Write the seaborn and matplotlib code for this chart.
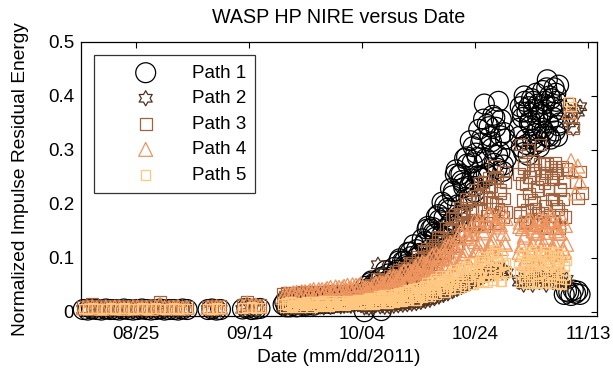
import matplotlib
matplotlib.use("Agg")
import numpy as np
import pandas as pd
import seaborn as sns
import matplotlib.pyplot as plt
import matplotlib.dates as mdates
from matplotlib.path import Path

nan = np.nan

# ================= data (time = days since 2011-08-15) =================
# --- common sampling times for paths 1, 3, 4, 5 ---
t_A = [0.6, 1.4, 2.2, 3.0, 3.8, 4.6, 5.4, 6.2, 7.0, 7.8, 8.6, 9.4, 10.2, 11.0, 11.8,
       12.6, 13.4, 14.2, 15.0, 15.8, 16.6, 17.4, 18.2, 19.0]
t_B = [22.7, 23.4, 24.2, 24.9]
t_C = [28.8, 29.6, 30.4, 31.2, 31.9]
t_D1 = [36.0, 36.3, 36.6, 36.9, 37.2, 37.5, 37.8, 38.1, 38.4, 38.7, 39.0, 39.3, 39.6, 39.9,
        40.2, 40.5, 40.8, 41.1, 41.4, 41.7, 42.0, 42.3, 42.6, 42.9, 43.2, 43.5, 43.8, 44.1,
        44.4, 44.7, 45.0, 45.3, 45.6, 45.9, 46.2, 46.5, 46.8, 47.1, 47.4, 47.7, 48.0, 48.3,
        48.6, 48.9, 49.2, 49.5, 49.8, 50.1]
t_D2 = [50.40, 50.65, 50.90, 51.15, 51.40, 51.65, 51.90, 52.15, 52.40, 52.65, 52.90, 53.15,
        53.40, 53.65, 53.90, 54.15, 54.40, 54.65, 54.90, 55.15, 55.40, 55.65, 55.90, 56.15,
        56.40, 56.65, 56.90, 57.15, 57.40, 57.65, 57.90, 58.15, 58.40, 58.65, 58.90, 59.15,
        59.40, 59.65, 59.90, 60.15, 60.40, 60.65, 60.90, 61.15, 61.40, 61.65, 61.90, 62.15,
        62.40, 62.65, 62.90, 63.15, 63.40, 63.65, 63.90, 64.15, 64.40, 64.65, 64.90, 65.15,
        65.40, 65.65, 65.90, 66.15, 66.40, 66.65, 66.90, 67.15, 67.40, 67.65, 67.90, 68.15,
        68.40, 68.65, 68.90, 69.15, 69.40, 69.65, 69.90, 70.15, 70.40, 70.65, 70.90, 71.15,
        71.40, 71.65, 71.90, 72.15, 72.40, 72.65, 72.90, 73.15, 73.40, 73.65, 73.90, 74.15,
        74.40, 74.65, 74.90, 75.15, 75.40]
t_D2b = [50.5, 51.0, 51.5, 52.0, 52.5, 53.0, 53.5, 54.0, 54.5, 55.0, 55.5, 56.0, 56.5, 57.0,
         57.5, 58.0, 58.5, 59.0, 59.5, 60.0, 60.5, 61.0, 61.5, 62.0, 62.5, 63.0, 63.5, 64.0,
         64.5, 65.0, 65.5, 66.0, 66.5, 67.0, 67.5, 68.0, 68.5, 69.0, 69.5, 70.0, 70.5, 71.0,
         71.5, 72.0, 72.5, 73.0, 73.5, 74.0, 74.5, 75.0, 75.5]
t_E = [77.8, 78.0, 78.2, 78.4, 78.6, 78.8, 79.0, 79.2, 79.4, 79.6, 79.8, 80.0, 80.2, 80.4,
       80.6, 80.8, 81.0, 81.2, 81.4, 81.6, 81.8, 82.0, 82.2, 82.4, 82.6, 82.8, 83.0, 83.2,
       83.4, 83.6, 83.8, 84.0, 84.2, 84.4, 84.6, 84.8, 85.0, 85.2, 85.4, 85.6, 85.8, 86.0, 86.2]
t_Eb = [77.9, 78.3, 78.7, 79.1, 79.5, 79.9, 80.3, 80.7, 81.1, 81.5, 81.9, 82.3, 82.7, 83.1,
        83.5, 83.9, 84.3, 84.7, 85.1]
t_F = [86.6, 87.0, 87.4, 87.8, 88.2, 88.6, 89.0, 89.4]

# --- sampling times for path 2 ---
t2_D1 = [36.0, 36.6, 37.2, 37.8, 38.4, 39.0, 39.6, 40.2, 40.8, 41.4, 42.0, 42.6, 43.2,
         43.8, 44.4, 45.0, 45.6, 46.2, 46.8, 47.4, 48.0, 48.6, 49.2, 49.8]
t2_D2 = [50.4, 50.8, 51.2, 51.6, 52.0, 52.4, 52.8, 53.2, 53.6, 54.0, 54.4, 54.8, 55.2,
         55.6, 56.0, 56.4, 56.8, 57.2, 57.6, 58.0, 58.4, 58.8, 59.2, 59.6, 60.0, 60.4,
         60.8, 61.2, 61.6, 62.0, 62.4, 62.8, 63.2, 63.6, 64.0, 64.4, 64.8, 65.2, 65.6,
         66.0, 66.4, 66.8, 67.2, 67.6, 68.0, 68.4, 68.8, 69.2, 69.6, 70.0, 70.4, 70.8,
         71.2, 71.6, 72.0, 72.4, 72.8, 73.2, 73.6, 74.0, 74.4, 74.8, 75.2, 75.6]
t2_E = [77.8, 78.2, 78.6, 79.0, 79.4, 79.8, 80.2, 80.6, 81.0, 81.4, 81.8, 82.2, 82.6,
        83.0, 83.4, 83.8, 84.2, 84.6, 85.0, 85.4, 85.8, 86.2]

# --- Path 1 ---
p1_A = [0.004, 0.003, 0.005, 0.004, 0.003, 0.005, 0.004, 0.004, 0.003, 0.005, 0.004, 0.003,
        0.004, 0.005, 0.004, 0.003, 0.004, 0.005, 0.003, 0.004, 0.004, 0.003, 0.005, 0.004]
p1_B = [0.004, 0.005, 0.003, 0.004]
p1_C = [0.005, 0.006, 0.004, 0.005, 0.006]
p1_D1 = [0.013, 0.018, 0.009, 0.016, 0.009, 0.021, 0.012, 0.019, 0.009, 0.017, 0.016, 0.021,
         0.012, 0.019, 0.012, 0.024, 0.015, 0.022, 0.012, 0.020, 0.019, 0.024, 0.015, 0.022,
         0.015, 0.027, 0.018, 0.025, 0.015, 0.023, 0.022, 0.027, 0.018, 0.025, 0.018, 0.030,
         0.021, 0.028, 0.018, 0.026, 0.025, 0.030, 0.021, 0.028, 0.021, 0.033, 0.024, 0.031]
p1_D2 = [0.000, 0.047, 0.023, 0.043, 0.020, 0.057, 0.032, 0.053, 0.020, 0.046, 0.042, 0.061,
         0.002, 0.054, 0.022, 0.076, 0.043, 0.070, 0.032, 0.064, 0.061, 0.082, 0.047, 0.077,
         0.046, 0.098, 0.063, 0.093, 0.051, 0.087, 0.084, 0.110, 0.067, 0.102, 0.065, 0.124,
         0.083, 0.115, 0.069, 0.108, 0.106, 0.135, 0.091, 0.130, 0.092, 0.158, 0.115, 0.153,
         0.101, 0.147, 0.144, 0.176, 0.125, 0.170, 0.125, 0.203, 0.152, 0.198, 0.136, 0.192,
         0.188, 0.228, 0.167, 0.223, 0.163, 0.263, 0.198, 0.253, 0.178, 0.243, 0.238, 0.284,
         0.212, 0.274, 0.210, 0.317, 0.246, 0.306, 0.222, 0.294, 0.286, 0.338, 0.251, 0.321,
         0.247, 0.385, 0.284, 0.347, 0.252, 0.325, 0.315, 0.364, 0.275, 0.342, 0.266, 0.390,
         0.296, 0.356, 0.260, 0.332, 0.320]
p1_D2b = [0.023, 0.040, 0.054, 0.022, 0.053, 0.041, 0.064, 0.038, 0.056, 0.038, 0.046, 0.073,
          0.094, 0.050, 0.094, 0.079, 0.110, 0.078, 0.099, 0.076, 0.089, 0.125, 0.153, 0.099,
          0.156, 0.138, 0.180, 0.140, 0.174, 0.144, 0.162, 0.215, 0.255, 0.175, 0.255, 0.230,
          0.287, 0.233, 0.276, 0.232, 0.252, 0.313, 0.357, 0.256, 0.343, 0.303, 0.360, 0.290,
          0.326, 0.272, 0.284]
p1_E = [0.340, 0.380, 0.305, 0.360, 0.295, 0.390, 0.320, 0.370, 0.290, 0.350,
        0.355, 0.395, 0.320, 0.375, 0.310, 0.405, 0.335, 0.385, 0.305, 0.365,
        0.370, 0.410, 0.335, 0.390, 0.325, 0.430, 0.350, 0.400, 0.320, 0.380,
        0.370, 0.415, 0.335, 0.390, 0.325, 0.420, 0.350, nan, nan, nan, 0.032, nan, 0.038]
p1_Eb = [0.325, 0.370, 0.400, 0.310, 0.380, 0.345, 0.390, 0.330, 0.360, 0.315,
         0.340, 0.385, 0.415, 0.325, 0.395, 0.360, 0.405, 0.345, 0.375]
p1_F = [0.036, 0.030, 0.040, 0.034, 0.038, 0.032, nan, nan]

# --- Path 2 ---
p2_A = [0.004, 0.005, 0.003, 0.004, 0.005, 0.004, 0.003, 0.004, 0.005, 0.004, 0.004, 0.003,
        0.005, 0.004, 0.003, 0.004, 0.005, 0.004, 0.003, 0.005, 0.004, 0.003, 0.004, 0.005]
p2_B = [0.004, 0.003, 0.005, 0.004]
p2_C = [0.004, 0.006, 0.005, 0.004, 0.005]
p2_D1 = [0.006, 0.008, 0.007, 0.009, 0.008, 0.007, 0.009, 0.008, 0.010, 0.008, 0.009, 0.010,
         0.008, 0.011, 0.009, 0.010, 0.012, 0.010, 0.011, 0.013, 0.011, 0.012, 0.014, 0.012]
p2_D2 = [0.008, 0.010, 0.007, 0.011, 0.009, 0.012, 0.087, 0.010, 0.012, 0.009, 0.013, 0.010,
         0.014, 0.011, 0.015, 0.012, 0.016, 0.013, 0.017, 0.014, 0.018, 0.015, 0.019, 0.016,
         0.020, 0.018, 0.022, 0.020, 0.025, 0.022, 0.028, 0.025, 0.031, 0.028, 0.034, 0.031,
         0.038, 0.034, 0.042, 0.038, 0.046, 0.042, 0.050, 0.046, 0.054, 0.050, 0.058, 0.054,
         0.062, 0.058, 0.066, 0.062, 0.070, 0.066, 0.072, 0.068, 0.074, 0.070, 0.076, 0.072,
         0.078, 0.074, 0.076, 0.072]
p2_E = [0.055, 0.060, 0.050, 0.065, 0.055, 0.060, 0.050, 0.065, 0.060, 0.055, 0.065, 0.060,
        0.050, 0.060, 0.065, 0.055, 0.060, 0.065, 0.055, 0.060, 0.050, 0.060]
p2_F = [0.350, 0.370, 0.340, 0.375, 0.370, 0.380, nan, nan]

# --- Path 3 ---
p3_A = [0.009, 0.010, 0.014, 0.009, 0.010, 0.009, 0.008, 0.010, 0.009, 0.010, 0.008, 0.009,
        0.010, 0.009, 0.008, 0.011, 0.010, 0.018, 0.009, 0.008, 0.010, 0.009, 0.008, 0.009]
p3_B = [0.009, 0.010, 0.008, 0.010]
p3_C = [0.012, 0.018, 0.013, 0.011, 0.012]
p3_D1 = [0.033, 0.028, 0.035, 0.030, 0.034, 0.027, 0.032, 0.029, 0.035, 0.031, 0.034, 0.029,
         0.036, 0.031, 0.035, 0.028, 0.033, 0.030, 0.037, 0.032, 0.035, 0.030, 0.037, 0.032,
         0.036, 0.029, 0.034, 0.031, 0.038, 0.033, 0.036, 0.031, 0.038, 0.033, 0.037, 0.030,
         0.035, 0.032, 0.039, 0.034, 0.037, 0.032, 0.039, 0.034, 0.038, 0.031, 0.037, 0.033]
p3_D2 = [0.041, 0.030, 0.047, 0.036, 0.047, 0.031, 0.044, 0.037, 0.053, 0.060, 0.051, 0.038,
         0.059, 0.045, 0.058, 0.039, 0.055, 0.046, 0.067, 0.054, 0.064, 0.047, 0.074, 0.056,
         0.073, 0.047, 0.068, 0.056, 0.082, 0.067, 0.078, 0.057, 0.091, 0.069, 0.090, 0.059,
         0.084, 0.071, 0.102, 0.084, 0.098, 0.073, 0.113, 0.087, 0.110, 0.076, 0.104, 0.088,
         0.124, 0.104, 0.121, 0.093, 0.138, 0.109, 0.136, 0.097, 0.130, 0.112, 0.156, 0.132,
         0.152, 0.117, 0.174, 0.138, 0.172, 0.122, 0.163, 0.140, 0.193, 0.162, 0.186, 0.143,
         0.210, 0.166, 0.205, 0.144, 0.192, 0.163, 0.225, 0.187, 0.214, 0.162, 0.239, 0.186,
         0.231, 0.158, 0.213, 0.178, 0.248, 0.204, 0.233, 0.172, 0.270, 0.199, 0.249, 0.165,
         0.225, 0.185, 0.260, 0.210, 0.240]
p3_D2b = [0.032, 0.041, 0.049, 0.033, 0.049, 0.044, 0.056, 0.044, 0.054, 0.044, 0.049, 0.065,
          0.077, 0.050, 0.076, 0.066, 0.087, 0.068, 0.083, 0.069, 0.076, 0.099, 0.116, 0.080,
          0.116, 0.105, 0.132, 0.108, 0.129, 0.111, 0.121, 0.154, 0.179, 0.128, 0.181, 0.163,
          0.200, 0.161, 0.189, 0.158, 0.169, 0.210, 0.241, 0.165, 0.231, 0.201, 0.247, 0.190,
          0.220, 0.175, 0.185]
p3_E = [0.255, 0.177, 0.310, 0.207, 0.267, 0.165, 0.237, 0.189, 0.300, 0.219,
        0.250, 0.172, 0.280, 0.202, 0.262, 0.160, 0.232, 0.184, 0.274, 0.310,
        0.245, 0.167, 0.275, 0.197, 0.257, 0.155, 0.227, 0.179, 0.269, 0.209,
        0.245, 0.167, 0.275, 0.197, 0.257, 0.155, 0.227, 0.179, 0.269, 0.209,
        0.240, 0.175, 0.265]
p3_Eb = [0.184, 0.238, 0.274, 0.166, 0.250, 0.208, 0.262, 0.190, 0.226, 0.172,
         0.184, 0.238, 0.274, 0.166, 0.250, 0.208, 0.262, 0.190, 0.226]
p3_F = [0.385, 0.360, 0.340, 0.240, 0.210, 0.260, 0.220, nan]

# --- Path 4 ---
p4_A = [0.007, 0.008, 0.009, 0.007, 0.006, 0.008, 0.007, 0.009, 0.008, 0.006, 0.007, 0.008,
        0.009, 0.007, 0.008, 0.006, 0.009, 0.014, 0.008, 0.007, 0.008, 0.009, 0.007, 0.008]
p4_B = [0.008, 0.007, 0.009, 0.008]
p4_C = [0.010, 0.016, 0.011, 0.012, 0.010]
p4_D1 = [0.026, 0.033, 0.028, 0.032, 0.025, 0.032, 0.035, 0.028, 0.036, 0.030, 0.030, 0.037,
         0.032, 0.037, 0.029, 0.036, 0.039, 0.032, 0.041, 0.034, 0.034, 0.041, 0.036, 0.041,
         0.033, 0.040, 0.043, 0.036, 0.045, 0.038, 0.038, 0.046, 0.041, 0.045, 0.038, 0.044,
         0.047, 0.040, 0.049, 0.043, 0.043, 0.050, 0.045, 0.049, 0.042, 0.049, 0.052, 0.045]
p4_D2 = [0.032, 0.044, 0.036, 0.043, 0.029, 0.042, 0.048, 0.033, 0.052, 0.038, 0.038, 0.054,
         0.043, 0.053, 0.035, 0.051, 0.059, 0.041, 0.064, 0.046, 0.046, 0.066, 0.052, 0.064,
         0.042, 0.062, 0.070, 0.048, 0.075, 0.055, 0.054, 0.077, 0.061, 0.075, 0.050, 0.073,
         0.083, 0.058, 0.089, 0.066, 0.065, 0.092, 0.073, 0.089, 0.060, 0.086, 0.097, 0.069,
         0.104, 0.077, 0.076, 0.107, 0.085, 0.103, 0.070, 0.100, 0.114, 0.079, 0.123, 0.089,
         0.087, 0.128, 0.098, 0.124, 0.077, 0.119, 0.137, 0.089, 0.148, 0.102, 0.100, 0.151,
         0.113, 0.144, 0.086, 0.136, 0.157, 0.101, 0.169, 0.115, 0.112, 0.169, 0.127, 0.160,
         0.097, 0.150, 0.172, 0.112, 0.181, 0.126, 0.122, 0.179, 0.135, 0.168, 0.105, 0.157,
         0.177, 0.117, 0.185, 0.129, 0.125]
p4_D2b = [0.042, 0.032, 0.041, 0.031, 0.052, 0.040, 0.051, 0.035, 0.054, 0.051, 0.062, 0.047,
          0.060, 0.045, 0.076, 0.057, 0.073, 0.050, 0.076, 0.072, 0.087, 0.066, 0.083, 0.064,
          0.105, 0.081, 0.100, 0.070, 0.105, 0.099, 0.121, 0.087, 0.114, 0.082, 0.149, 0.108,
          0.139, 0.087, 0.143, 0.130, 0.161, 0.111, 0.146, 0.104, 0.181, 0.131, 0.164, 0.105,
          0.161, 0.145, 0.173]
p4_E = [0.110, 0.166, 0.122, 0.154, 0.090, 0.142, 0.162, 0.102, 0.170, 0.114,
        0.113, 0.169, 0.125, 0.157, 0.093, 0.145, 0.165, 0.105, 0.173, 0.117,
        0.115, 0.171, 0.127, 0.159, 0.095, 0.147, 0.167, 0.107, 0.180, 0.119,
        0.113, 0.169, 0.125, 0.157, 0.093, 0.145, 0.165, 0.105, 0.173, 0.117,
        0.110, 0.160, 0.125]
p4_Eb = [0.158, 0.106, 0.138, 0.094, 0.170, 0.118, 0.150, 0.090, 0.146, 0.130,
         0.158, 0.106, 0.138, 0.094, 0.170, 0.118, 0.150, 0.090, 0.146]
p4_F = [0.370, 0.280, 0.260, 0.220, 0.270, 0.240, nan, nan]

# --- Path 5 ---
p5_A = [0.006, 0.005, 0.007, 0.006, 0.005, 0.006, 0.007, 0.005, 0.006, 0.007, 0.006, 0.005,
        0.006, 0.007, 0.005, 0.006, 0.007, 0.006, 0.005, 0.006, 0.007, 0.005, 0.006, 0.006]
p5_B = [0.006, 0.005, 0.007, 0.006]
p5_C = [0.007, 0.008, 0.009, 0.007, 0.008]
p5_D1 = [0.014, 0.008, 0.016, 0.011, 0.018, 0.010, 0.013, 0.008, 0.017, 0.011, 0.015, 0.009,
         0.017, 0.013, 0.019, 0.011, 0.015, 0.009, 0.018, 0.012, 0.016, 0.010, 0.018, 0.014,
         0.020, 0.012, 0.016, 0.010, 0.020, 0.014, 0.017, 0.012, 0.020, 0.015, 0.021, 0.014,
         0.017, 0.012, 0.021, 0.015, 0.019, 0.013, 0.021, 0.017, 0.023, 0.015, 0.018, 0.013]
p5_D2 = [0.020, 0.013, 0.023, 0.018, 0.026, 0.016, 0.021, 0.013, 0.026, 0.018, 0.024, 0.015,
         0.028, 0.021, 0.031, 0.018, 0.024, 0.016, 0.031, 0.021, 0.028, 0.018, 0.032, 0.024,
         0.036, 0.022, 0.029, 0.019, 0.037, 0.025, 0.033, 0.021, 0.038, 0.029, 0.043, 0.026,
         0.035, 0.022, 0.044, 0.031, 0.040, 0.026, 0.047, 0.036, 0.053, 0.033, 0.043, 0.028,
         0.055, 0.039, 0.050, 0.033, 0.058, 0.045, 0.066, 0.041, 0.053, 0.036, 0.067, 0.048,
         0.061, 0.041, 0.070, 0.055, 0.078, 0.049, 0.064, 0.043, 0.079, 0.057, 0.072, 0.048,
         0.082, 0.064, 0.091, 0.058, 0.074, 0.051, 0.091, 0.066, 0.082, 0.055, 0.093, 0.073,
         0.102, 0.064, 0.082, 0.055, 0.101, 0.071, 0.089, 0.058, 0.115, 0.077, 0.110, 0.067,
         0.086, 0.056, 0.105, 0.072, 0.091]
p5_D2b = [0.017, 0.024, 0.013, 0.024, 0.016, 0.029, 0.021, 0.026, 0.015, 0.026, 0.023, 0.033,
          0.019, 0.033, 0.023, 0.040, 0.030, 0.037, 0.022, 0.037, 0.033, 0.049, 0.028, 0.049,
          0.035, 0.061, 0.046, 0.056, 0.036, 0.057, 0.051, 0.072, 0.043, 0.072, 0.052, 0.086,
          0.066, 0.078, 0.051, 0.078, 0.069, 0.096, 0.057, 0.093, 0.065, 0.108, 0.080, 0.094,
          0.056, 0.088, 0.075]
p5_E = [0.091, 0.055, 0.103, 0.076, 0.112, 0.064, 0.085, 0.052, 0.106, 0.070,
        0.093, 0.057, 0.105, 0.078, 0.114, 0.066, 0.087, 0.054, 0.108, 0.072,
        0.091, 0.055, 0.103, 0.076, 0.112, 0.064, 0.085, 0.052, 0.106, 0.070,
        0.089, 0.053, 0.101, 0.074, 0.110, 0.062, 0.083, 0.050, 0.104, 0.068,
        0.085, 0.060, 0.095]
p5_Eb = [0.073, 0.106, 0.055, 0.097, 0.064, 0.112, 0.079, 0.094, 0.052, 0.088,
         0.073, 0.106, 0.055, 0.097, 0.064, 0.112, 0.079, 0.094, 0.052]
p5_F = [0.390, 0.380, nan, nan, nan, nan, nan, nan]

labels = ["Path 1", "Path 2", "Path 3", "Path 4", "Path 5"]
y_ticks = [0, 0.1, 0.2, 0.3, 0.4, 0.5]
y_tick_labels = ["0", "0.1", "0.2", "0.3", "0.4", "0.5"]
x_tick_dates = ["2011-08-25", "2011-09-14", "2011-10-04", "2011-10-24", "2011-11-13"]

# ================= assemble =================
t_common = t_A + t_B + t_C + t_D1 + t_D2 + t_D2b + t_E + t_Eb + t_F
t_path2 = t_A + t_B + t_C + t2_D1 + t2_D2 + t2_E + t_F
series = {
    "Path 1": (t_common, p1_A + p1_B + p1_C + p1_D1 + p1_D2 + p1_D2b + p1_E + p1_Eb + p1_F),
    "Path 2": (t_path2, p2_A + p2_B + p2_C + p2_D1 + p2_D2 + p2_E + p2_F),
    "Path 3": (t_common, p3_A + p3_B + p3_C + p3_D1 + p3_D2 + p3_D2b + p3_E + p3_Eb + p3_F),
    "Path 4": (t_common, p4_A + p4_B + p4_C + p4_D1 + p4_D2 + p4_D2b + p4_E + p4_Eb + p4_F),
    "Path 5": (t_common, p5_A + p5_B + p5_C + p5_D1 + p5_D2 + p5_D2b + p5_E + p5_Eb + p5_F),
}
base = pd.Timestamp("2011-08-15")
frames = []
for lab in labels:
    tt, vv = series[lab]
    frames.append(pd.DataFrame({"date": base + pd.to_timedelta(tt, unit="D"),
                                "value": vv, "path": lab}))
df = pd.concat(frames, ignore_index=True).dropna()

# ================= style =================
sns.set_theme(style="white")
plt.rcParams["font.family"] = ["Liberation Sans", "DejaVu Sans"]
plt.rcParams["text.color"] = "black"
plt.rcParams["axes.labelcolor"] = "black"
plt.rcParams["xtick.color"] = "black"
plt.rcParams["ytick.color"] = "black"
FS = 13.5

hexagram = Path.unit_regular_star(6, innerCircle=0.577)
colors = [(0, 0, 0), (0.3125, 0.1953, 0.1244), (0.625, 0.3906, 0.2487),
          (0.9375, 0.5859, 0.3731), (1.0, 0.7812, 0.4975)]
markers = ["o", hexagram, "s", "^", "s"]
sizes = [205, 118, 72, 100, 46]

fig = plt.figure(figsize=(6.13, 3.75), dpi=100)
ax = fig.add_axes([81 / 613, 1 - 316 / 375, (597 - 81) / 613, (316 - 42) / 375])

handles = []
for lab, col, mk, sz in zip(labels, colors, markers, sizes):
    sub = df[df["path"] == lab]
    sns.scatterplot(data=sub, x="date", y="value", ax=ax, marker=mk, s=sz,
                    color=col, facecolor="none", edgecolor=col, linewidth=0.9,
                    clip_on=False, legend=False, zorder=3)
    handles.append(ax.collections[-1])

ax.set_xlim(mdates.date2num(base + pd.Timedelta(days=0.2)),
            mdates.date2num(base + pd.Timedelta(days=91.6)))
ax.set_ylim(-0.008, 0.5)
ax.set_xticks([mdates.date2num(pd.Timestamp(d)) for d in x_tick_dates])
ax.xaxis.set_major_formatter(mdates.DateFormatter("%m/%d"))
ax.set_yticks(y_ticks)
ax.set_yticklabels(y_tick_labels)

for s in ax.spines.values():
    s.set_visible(True)
    s.set_color("black")
    s.set_linewidth(0.9)
ax.tick_params(axis="both", which="major", direction="in", length=4, width=0.8,
               top=True, right=True, labelsize=FS, colors="black")
ax.tick_params(axis="x", pad=7)
ax.tick_params(axis="y", pad=5)

ax.set_title("WASP HP NIRE versus Date", fontsize=14.2, pad=14, color="black")
ax.set_xlabel("Date (mm/dd/2011)", fontsize=13.8)
ax.set_ylabel("Normalized Impulse Residual Energy", fontsize=13.8)
ax.yaxis.set_label_coords(-0.10, 0.5)
ax.xaxis.set_label_coords(0.5, -0.122)

leg = ax.legend(handles, labels, loc="upper left", fontsize=FS, frameon=True,
                fancybox=False, edgecolor="black", borderaxespad=0.7,
                handlelength=4.5, handletextpad=0.2, borderpad=0.5, labelspacing=0.45,
                scatterpoints=1)
leg.get_frame().set_linewidth(0.9)
leg.set_zorder(10)

fig.savefig("out.png", dpi=100)
